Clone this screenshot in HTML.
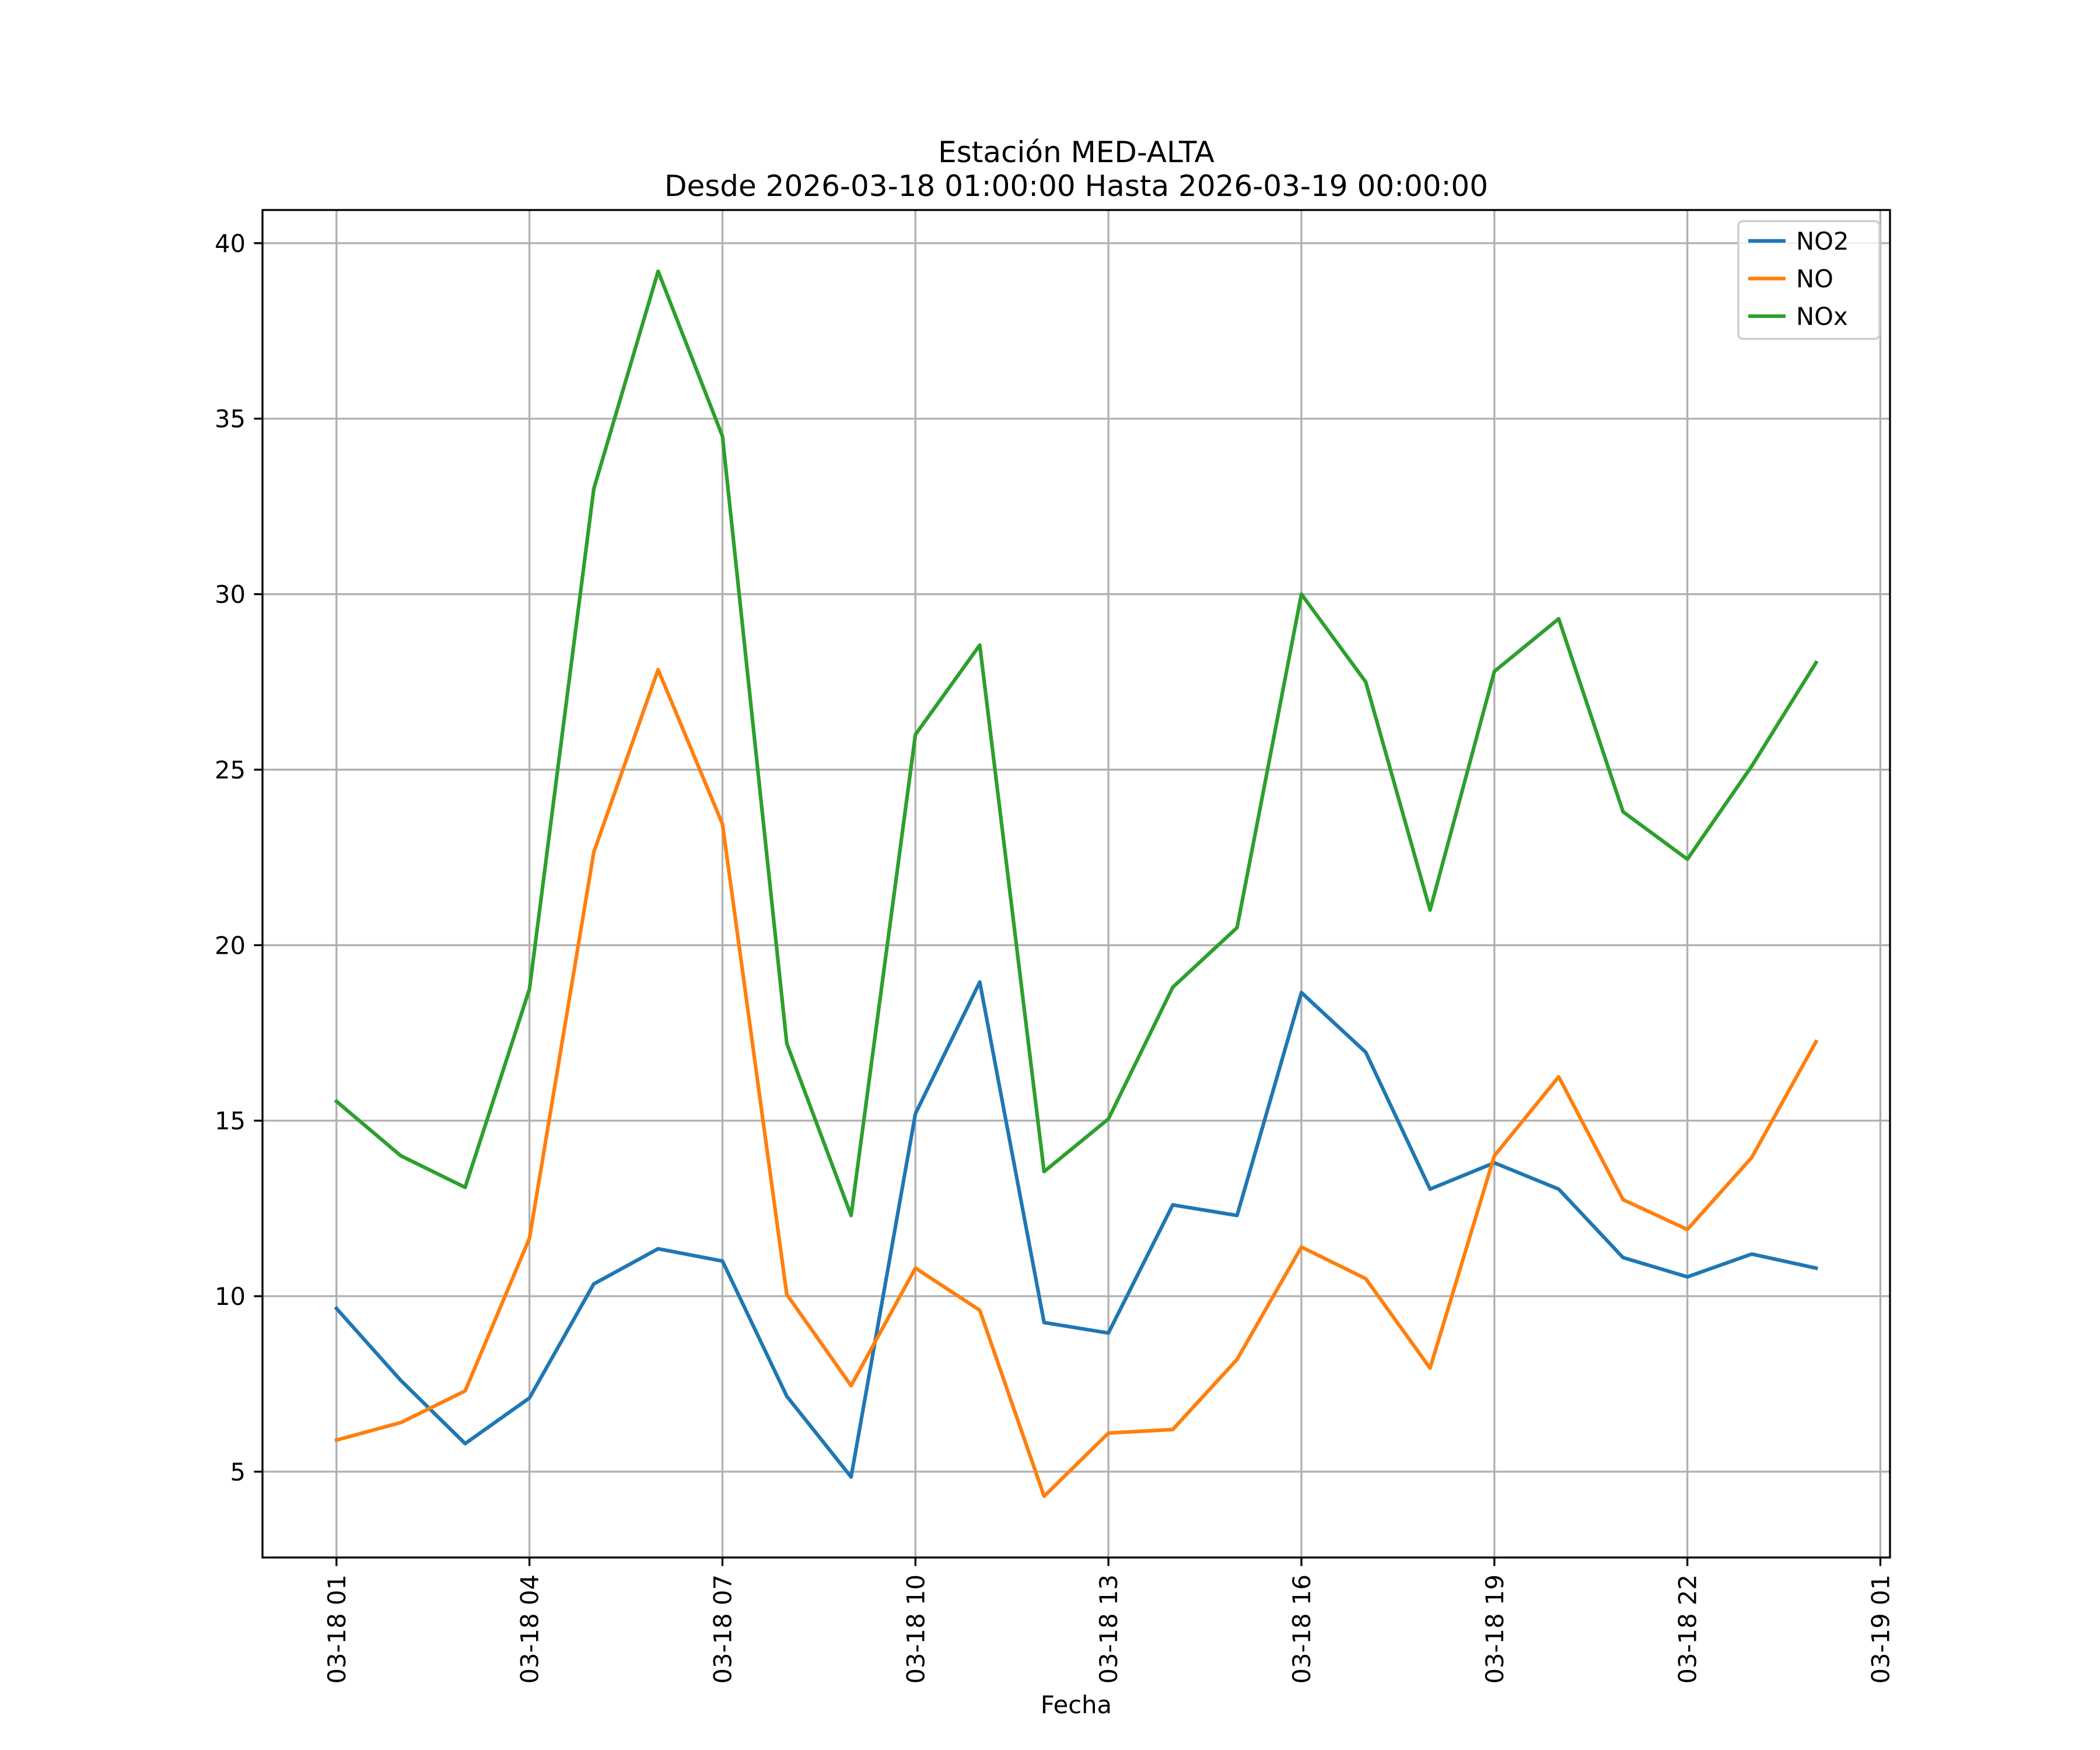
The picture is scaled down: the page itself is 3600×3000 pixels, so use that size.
<!DOCTYPE html>
<html><head><meta charset="utf-8"><style>
html,body{margin:0;padding:0;background:#fff;}
svg{display:block;font-family:"DejaVu Sans","Liberation Sans",sans-serif;}
</style></head><body>
<svg id="chart" width="3600" height="3000" viewBox="0 0 3600 3000" xmlns="http://www.w3.org/2000/svg">
<rect width="3600" height="3000" fill="#fff"/>
<text x="1845" y="278" font-size="50" text-anchor="middle">Estación MED-ALTA</text>
<text x="1845" y="336" font-size="50" text-anchor="middle">Desde 2026-03-18 01:00:00 Hasta 2026-03-19 00:00:00</text>
<g id="grid"></g>
<g id="series"></g>
<rect x="450" y="360" width="2790" height="2310" fill="none" stroke="#000" stroke-width="3.3"/>
<g id="ticks"></g>
<text x="1845" y="2937" font-size="41.7" text-anchor="middle">Fecha</text>
<g id="legend"></g>
</svg>
<script>
const hours = [1,2,3,4,5,6,7,8,9,10,11,12,13,14,15,16,17,18,19,20,21,22,23,24];
const no2 = [9.65,7.6,5.8,7.1,10.35,11.35,11.0,7.15,4.85,15.2,18.95,9.25,8.95,12.6,12.3,18.65,16.95,13.05,13.8,13.05,11.1,10.55,11.2,10.8];
const no = [5.9,6.4,7.3,11.65,22.65,27.85,23.45,10.05,7.45,10.8,9.6,4.3,6.1,6.2,8.2,11.4,10.5,7.95,14.0,16.25,12.75,11.9,13.95,17.25];
const nox = [15.55,14.0,13.1,18.75,33.0,39.2,34.5,17.2,12.3,26.0,28.55,13.55,15.05,18.8,20.5,30.0,27.5,21.0,27.8,29.3,23.8,22.45,25.1,28.05];
const seriesNames = ["NO2","NO","NOx"];
const yTicks = [5,10,15,20,25,30,35,40];
const xTickHours = [1,4,7,10,13,16,19,22,25];
const xTickLabels = ["03-18 01","03-18 04","03-18 07","03-18 10","03-18 13","03-18 16","03-18 19","03-18 22","03-19 01"];

const NS="http://www.w3.org/2000/svg";
const L=450,R=3240,T=360,B=2670;
const all=no2.concat(no,nox);
const ymn=Math.min(...all),ymx=Math.max(...all),yr=ymx-ymn;
const y0=ymn-0.05*yr,y1=ymx+0.05*yr;
const xmn=Math.min(...hours),xmx=Math.max(...hours),xr=xmx-xmn;
const x0=xmn-0.05*xr,x1=xmx+0.05*xr;
const sx=v=>L+(v-x0)/(x1-x0)*(R-L);
const sy=v=>B-(v-y0)/(y1-y0)*(B-T);
function mk(tag,attrs,parent){const e=document.createElementNS(NS,tag);for(const k in attrs)e.setAttribute(k,attrs[k]);parent.appendChild(e);return e;}
const grid=document.getElementById('grid'),ticks=document.getElementById('ticks'),ser=document.getElementById('series'),leg=document.getElementById('legend');
yTicks.forEach(v=>{
  const y=sy(v);
  const g=mk('line',{x1:L,x2:R,y1:y,y2:y,stroke:'#b0b0b0','stroke-width':3.3},grid);
  
  
  const t=mk('line',{x1:L-14.6,x2:L,y1:y,y2:y,stroke:'#000','stroke-width':3.3},ticks);
  
  
  const tx=mk('text',{x:L-29,y:y+15,'font-size':41.7,'text-anchor':'end'},ticks);
  tx.textContent=v;
  
  
});
xTickHours.forEach((h,i)=>{
  const x=sx(h);
  const g=mk('line',{x1:x,x2:x,y1:T,y2:B,stroke:'#b0b0b0','stroke-width':3.3},grid);
  
  
  const t=mk('line',{x1:x,x2:x,y1:B,y2:B+14.6,stroke:'#000','stroke-width':3.3},ticks);
  
  
  const tx=mk('text',{x:0,y:0,'font-size':41.7,'text-anchor':'end',transform:`translate(${x+15},${B+29}) rotate(-90)`},ticks);
  tx.textContent=xTickLabels[i];
  
  
});
const colors=['#1f77b4','#ff7f0e','#2ca02c'];
[no2,no,nox].forEach((d,i)=>{
  const p=mk('polyline',{points:d.map((v,j)=>sx(hours[j])+','+sy(v)).join(' '),fill:'none',stroke:colors[i],'stroke-width':6.25,'stroke-linejoin':'round','stroke-linecap':'square'},ser);
  
  
});
const box=mk('rect',{x:2980,y:379,width:242,height:202,rx:8,fill:'#fff','fill-opacity':0.8,stroke:'#cccccc','stroke-width':3.3},leg);


seriesNames.forEach((n,i)=>{
  const y=413+i*64.5;
  const l=mk('line',{x1:2997,x2:3061,y1:y,y2:y,stroke:colors[i],'stroke-width':6.25},leg);
  
  
  const t=mk('text',{x:3079,y:y+15,'font-size':41.7},leg);
  t.textContent=n;
  
  
});
</script>
</body></html>
